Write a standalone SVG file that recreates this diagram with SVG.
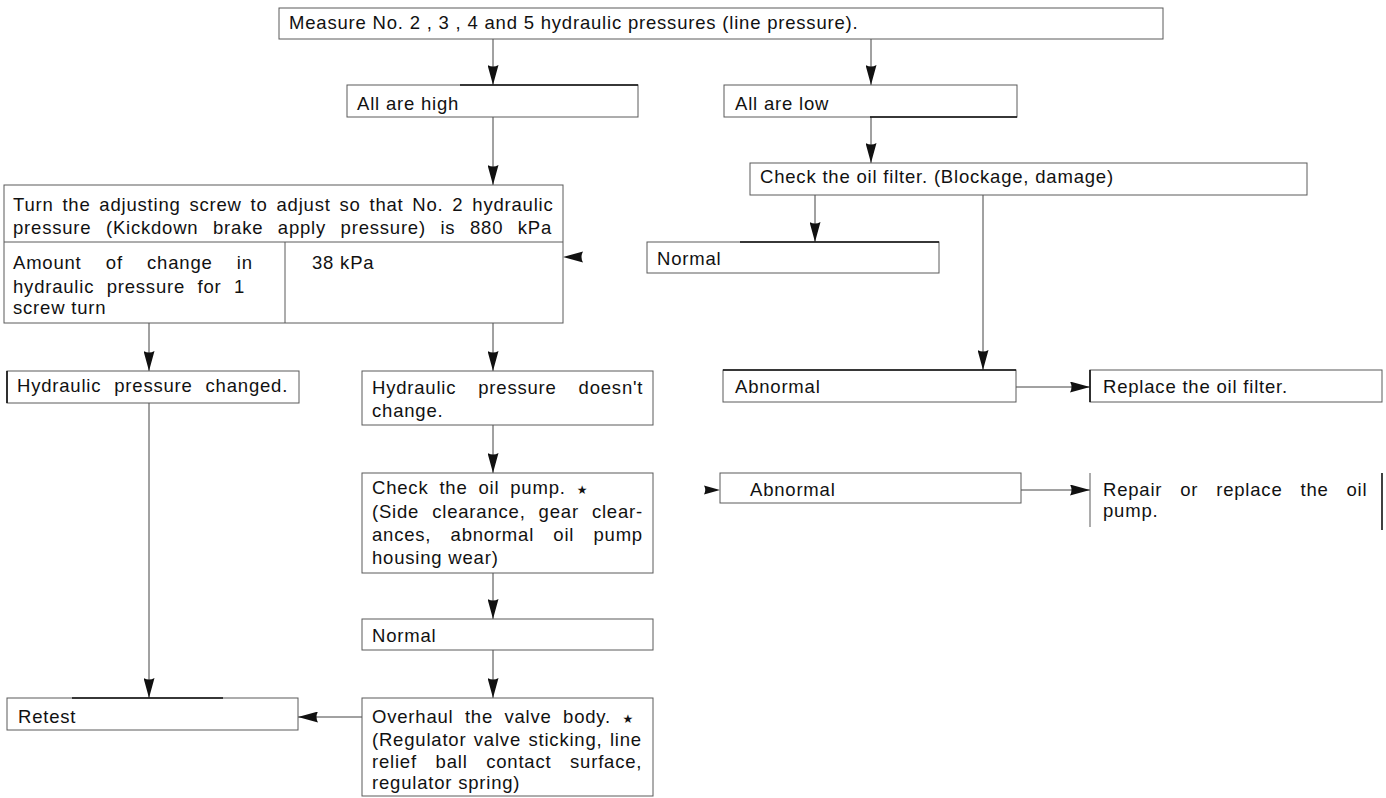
<svg xmlns="http://www.w3.org/2000/svg" width="1386" height="798" viewBox="0 0 1386 798">
  <style>
    .bg { fill: #ffffff; }
    .box { fill: none; stroke: #5a5a5a; stroke-width: 1; }
    .edge { fill: none; stroke: #5a5a5a; stroke-width: 1; }
    .dark { fill: none; stroke: #111; stroke-width: 1.6; }
    .conn { fill: none; stroke: #444; stroke-width: 1; }
    .head { fill: #111; }
    text { font-family: "Liberation Sans", Arial, sans-serif; font-size: 18.5px; letter-spacing: 0.8px; fill: #111; }
    .star { font-family: "DejaVu Sans", sans-serif; font-size: 12px; }
  </style>
  <defs>
    <marker id="arrow" viewBox="0 0 20 11" refX="20" refY="5.5" markerWidth="20" markerHeight="11" markerUnits="userSpaceOnUse" orient="auto">
      <path d="M0,0 L20,5.5 L0,11 Q3,5.5 0,0 z" fill="#111"/>
    </marker>
  </defs>
  <rect class="bg" x="0" y="0" width="1386" height="798"/>

  <!-- connectors -->
  <g id="connectors">
    <line class="conn" x1="493" y1="39" x2="493" y2="85" marker-end="url(#arrow)"/>
    <line class="conn" x1="871" y1="39" x2="871" y2="85" marker-end="url(#arrow)"/>
    <line class="conn" x1="493" y1="117" x2="493" y2="185" marker-end="url(#arrow)"/>
    <line class="conn" x1="871" y1="117" x2="871" y2="163" marker-end="url(#arrow)"/>
    <line class="conn" x1="815" y1="195" x2="815" y2="242" marker-end="url(#arrow)"/>
    <line class="conn" x1="983" y1="195" x2="983" y2="370" marker-end="url(#arrow)"/>
    <line class="conn" x1="1016" y1="387" x2="1090" y2="387" marker-end="url(#arrow)"/>
    <line class="conn" x1="1021" y1="490" x2="1090" y2="490" marker-end="url(#arrow)"/>
    <line class="conn" x1="149" y1="323" x2="149" y2="371" marker-end="url(#arrow)"/>
    <line class="conn" x1="493" y1="323" x2="493" y2="371" marker-end="url(#arrow)"/>
    <line class="conn" x1="149" y1="403" x2="149" y2="698" marker-end="url(#arrow)"/>
    <line class="conn" x1="493" y1="425" x2="493" y2="473" marker-end="url(#arrow)"/>
    <line class="conn" x1="493" y1="573" x2="493" y2="619" marker-end="url(#arrow)"/>
    <line class="conn" x1="493" y1="650" x2="493" y2="698" marker-end="url(#arrow)"/>
    <line class="conn" x1="362" y1="717" x2="298" y2="717" marker-end="url(#arrow)"/>
    <!-- loose arrowheads without a drawn shaft -->
    <path class="head" d="M563,257 L583,251.5 Q580,257 583,262.5 z"/>
    <path class="head" d="M720,490 L704,485.5 Q706.5,490 704,494.5 z"/>
  </g>

  <g id="measure">
    <rect class="box" x="279" y="8" width="884" height="31"/>
    <text x="289" y="29">Measure No. 2 , 3 , 4 and 5 hydraulic pressures (line pressure).</text>
  </g>

  <g id="all-high">
    <rect class="box" x="347" y="85" width="291" height="32"/>
    <line class="dark" x1="460" y1="85" x2="638" y2="85"/>
    <text x="357" y="110">All are high</text>
  </g>

  <g id="all-low">
    <rect class="box" x="724" y="85" width="293" height="32"/>
    <line class="dark" x1="870" y1="117" x2="1017" y2="117"/>
    <text x="735" y="110">All are low</text>
  </g>

  <g id="check-filter">
    <rect class="box" x="750" y="163" width="557" height="32"/>
    <text x="760" y="183">Check the oil filter. (Blockage, damage)</text>
  </g>

  <g id="adjust-screw">
    <rect class="box" x="4" y="185" width="559" height="138"/>
    <line class="edge" x1="4" y1="242" x2="563" y2="242"/>
    <line class="edge" x1="285" y1="242" x2="285" y2="323"/>
    <text x="13" y="211" word-spacing="2.9">Turn the adjusting screw to adjust so that No. 2 hydraulic</text>
    <text x="13" y="234" word-spacing="8.6">pressure (Kickdown brake apply pressure) is 880 kPa</text>
    <text x="13" y="269" word-spacing="18.3">Amount of change in</text>
    <text x="13" y="293" word-spacing="6.5">hydraulic pressure for 1</text>
    <text x="13" y="314">screw turn</text>
    <text x="312" y="269">38 kPa</text>
  </g>

  <g id="filter-normal">
    <rect class="box" x="647" y="242" width="292" height="31"/>
    <line class="dark" x1="740" y1="242" x2="939" y2="242"/>
    <text x="657" y="265">Normal</text>
  </g>

  <g id="pressure-changed">
    <rect class="box" x="7" y="371" width="292" height="32"/>
    <line class="dark" x1="7" y1="371" x2="7" y2="403"/>
    <text x="17" y="392" word-spacing="7">Hydraulic pressure changed.</text>
  </g>

  <g id="pressure-unchanged">
    <rect class="box" x="362" y="371" width="291" height="54"/>
    <text x="372" y="394" word-spacing="16">Hydraulic pressure doesn't</text>
    <text x="372" y="417">change.</text>
  </g>

  <g id="filter-abnormal">
    <rect class="box" x="723" y="370" width="293" height="32"/>
    <line class="dark" x1="723" y1="370" x2="1016" y2="370"/>
    <text x="735" y="393">Abnormal</text>
  </g>

  <g id="replace-filter">
    <rect class="box" x="1090" y="370" width="292" height="32"/>
    <line class="dark" x1="1090" y1="370" x2="1090" y2="402"/>
    <text x="1103" y="393">Replace the oil filter.</text>
  </g>

  <g id="check-pump">
    <rect class="box" x="362" y="473" width="291" height="100"/>
    <text x="372" y="494" word-spacing="5">Check the oil pump. <tspan class="star">★</tspan></text>
    <text x="372" y="518" word-spacing="7.1">(Side clearance, gear clear-</text>
    <text x="372" y="541" word-spacing="13.3">ances, abnormal oil pump</text>
    <text x="372" y="564">housing wear)</text>
  </g>

  <g id="pump-abnormal">
    <rect class="box" x="720" y="473" width="301" height="30"/>
    <text x="750" y="496">Abnormal</text>
  </g>

  <g id="repair-pump">
    <path class="edge" d="M1090,473 V527"/>
    <line class="dark" x1="1382" y1="473" x2="1382" y2="530"/>
    <text x="1103" y="496" word-spacing="12">Repair or replace the oil</text>
    <text x="1103" y="517">pump.</text>
  </g>

  <g id="pump-normal">
    <rect class="box" x="362" y="619" width="291" height="31"/>
    <text x="372" y="642">Normal</text>
  </g>

  <g id="overhaul-valve">
    <rect class="box" x="362" y="698" width="291" height="98"/>
    <text x="372" y="723" word-spacing="5.5">Overhaul the valve body. <tspan class="star">★</tspan></text>
    <text x="372" y="746" word-spacing="1.5">(Regulator valve sticking, line</text>
    <text x="372" y="768" word-spacing="12.7">relief ball contact surface,</text>
    <text x="372" y="789">regulator spring)</text>
  </g>

  <g id="retest">
    <rect class="box" x="7" y="698" width="291" height="32"/>
    <line class="dark" x1="72" y1="698" x2="223" y2="698"/>
    <text x="18" y="723">Retest</text>
  </g>
</svg>
